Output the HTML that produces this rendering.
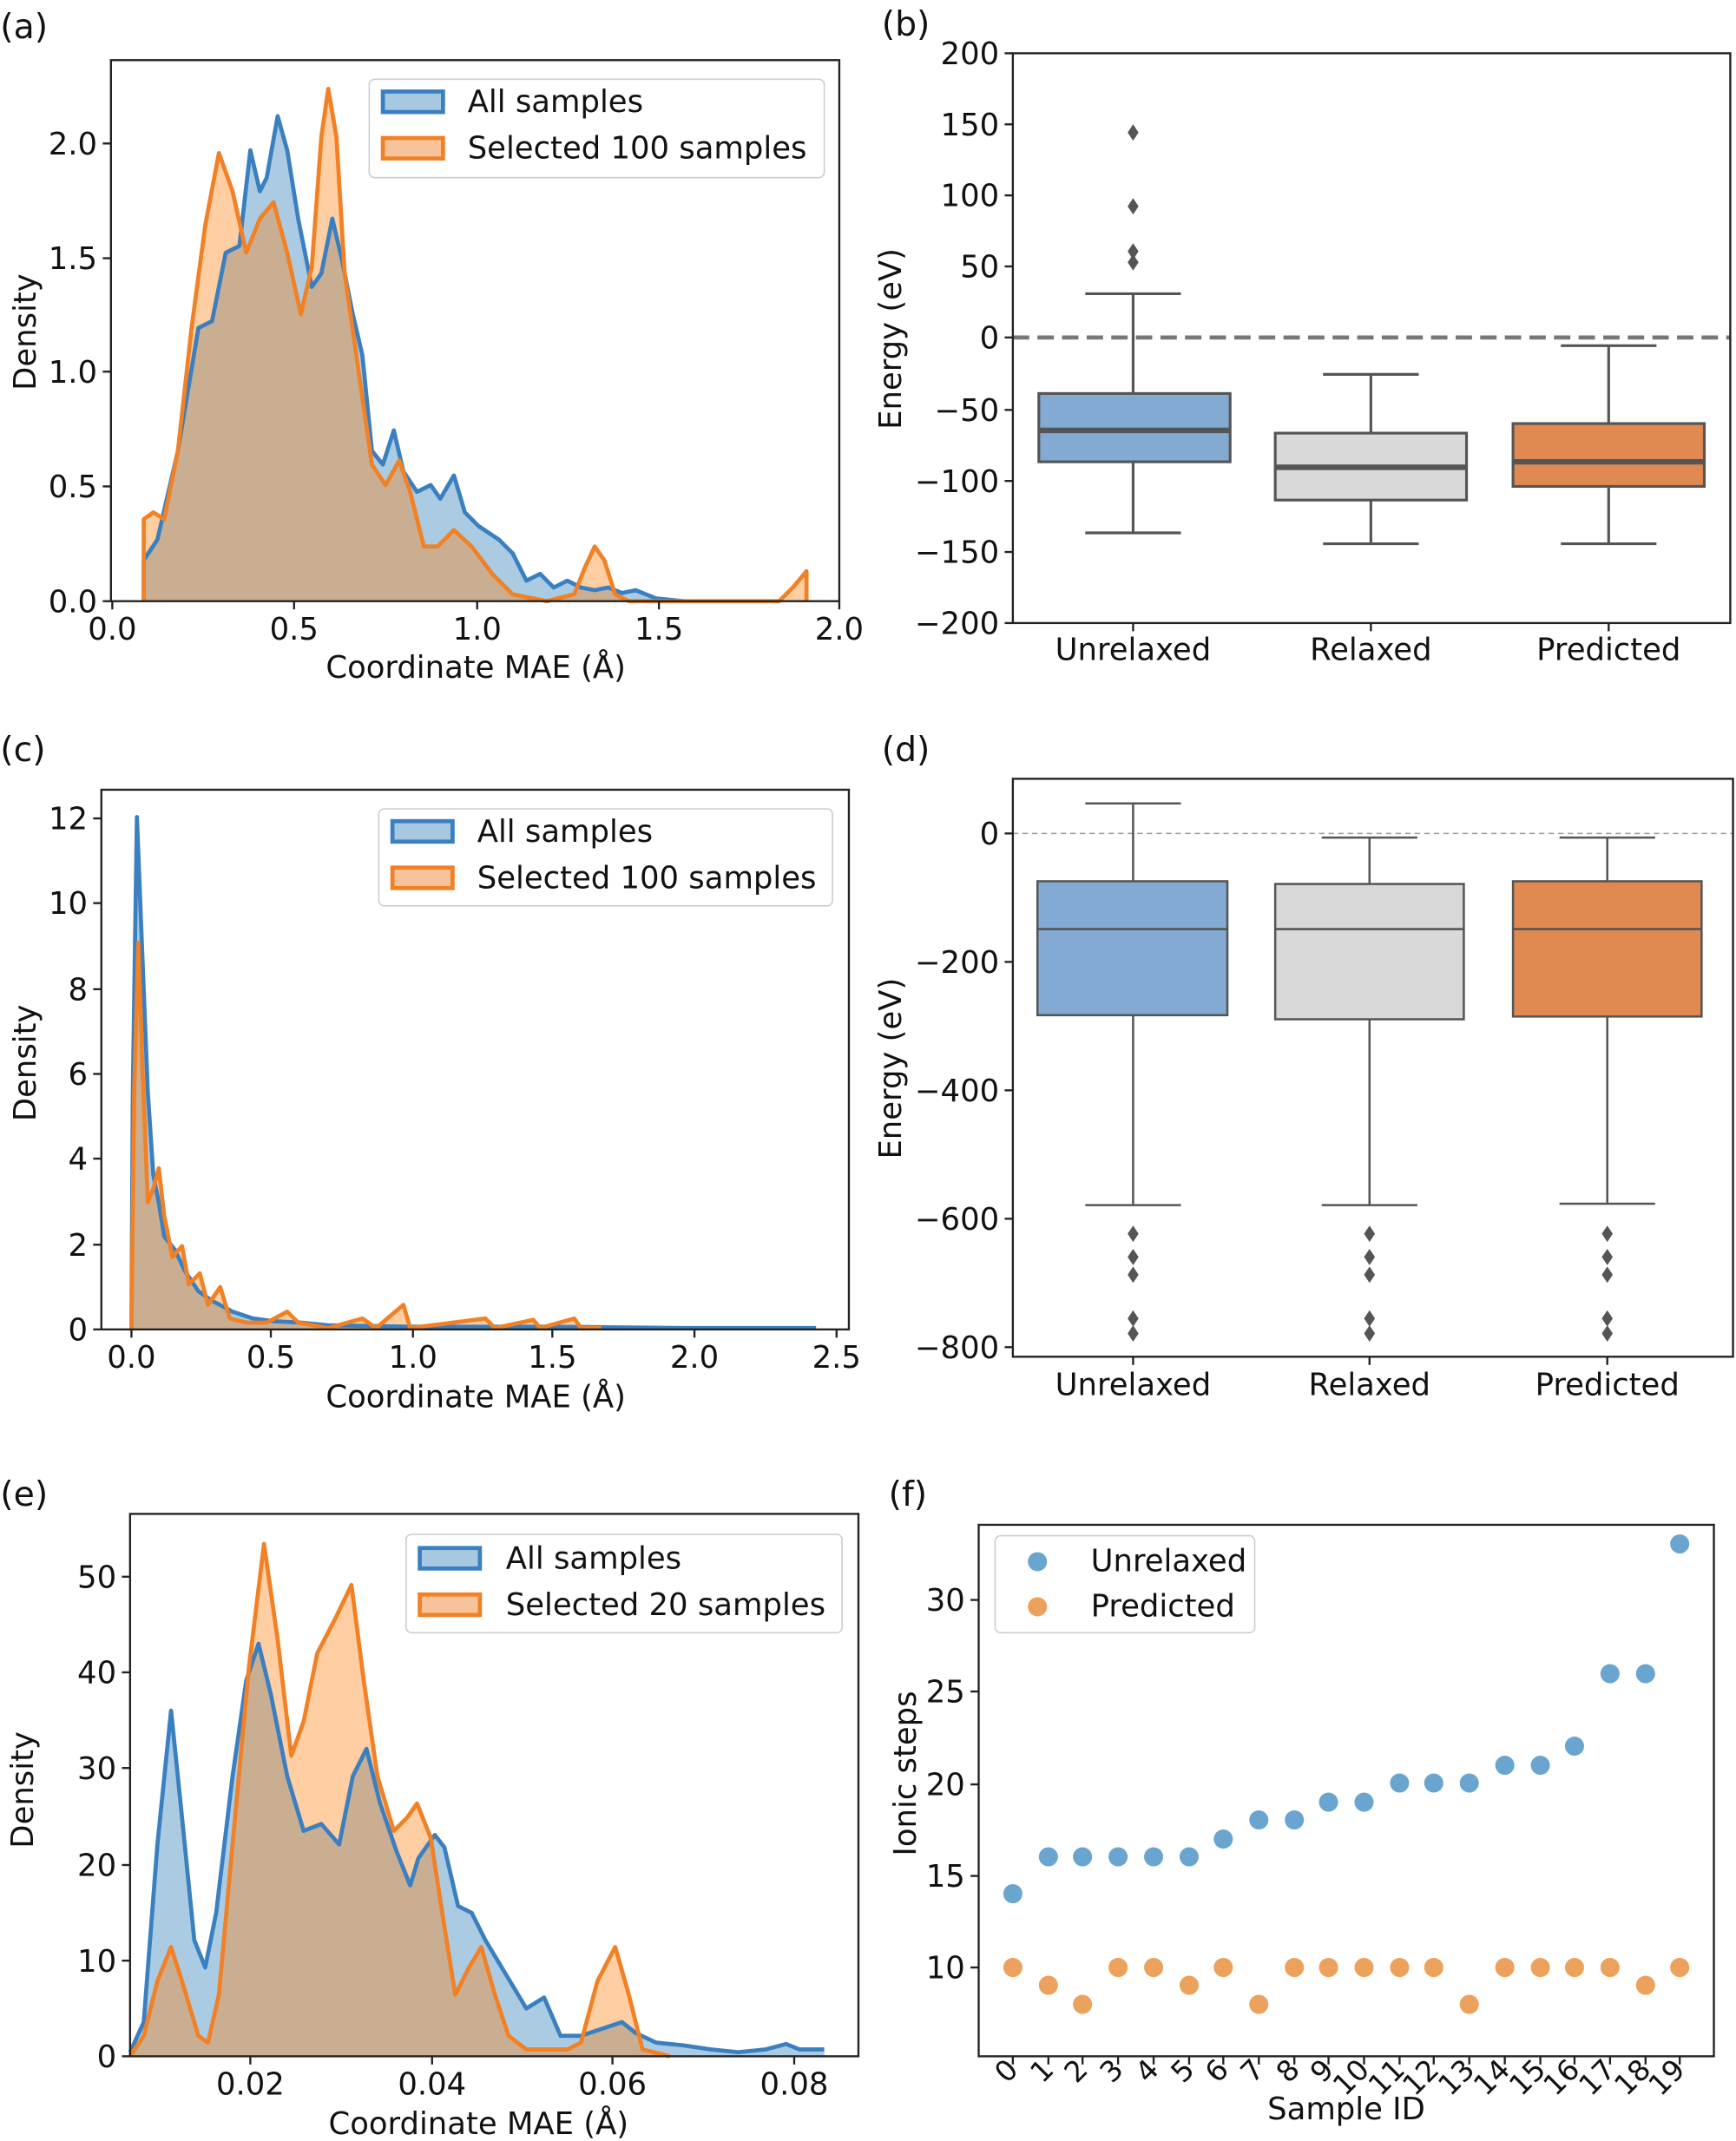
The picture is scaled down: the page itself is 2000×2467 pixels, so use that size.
<!DOCTYPE html>
<html><head><meta charset="utf-8"><style>
html,body{margin:0;padding:0;background:#fff}
svg{display:block}
text{font-family:"DejaVu Sans","Liberation Sans",sans-serif;fill:#111}
</style></head><body>
<svg width="2000" height="2467" viewBox="0 0 1270 1567" xmlns="http://www.w3.org/2000/svg">
<rect width="1270" height="1567" fill="#fff"/>
<g font-size="22.5">
<!-- panel labels -->
<text x="0" y="28" font-size="25">(a)</text>
<text x="645" y="26" font-size="25">(b)</text>
<text x="0" y="557" font-size="25">(c)</text>
<text x="645" y="557" font-size="25">(d)</text>
<text x="0" y="1102" font-size="25">(e)</text>
<text x="650" y="1102" font-size="25">(f)</text>

<!-- ===== (a) ===== -->
<g>
<polygon fill="#1f77b4" fill-opacity="0.38" points="105,440 105,410 115,395 130,330 145,240 155,235 165,185 175,180 183,110 190,140 195,130 203,85 210,110 218,160 228,210 235,200 243,160 250,190 258,230 265,260 272,330 280,340 288,315 295,345 305,360 315,355 322,365 332,348 340,375 350,385 365,395 375,405 385,425 395,420 405,430 415,425 425,430 435,432 445,430 455,434 465,432 480,438 500,440"/>
<polygon fill="#ff7f0e" fill-opacity="0.38" points="105,440 105,380 112,375 120,380 130,330 140,240 150,165 160,112 170,140 180,185 190,160 200,148 210,185 220,230 228,195 235,100 240,65 246,100 252,200 262,270 272,340 282,355 292,337 300,360 310,400 320,400 332,388 345,400 360,420 375,435 400,440 420,435 428,415 435,400 442,410 450,435 460,440 570,440 580,430 590,418 590,440"/>
<polyline fill="none" stroke="#3a7fc0" stroke-width="3" stroke-linejoin="round" points="105,440 105,410 115,395 130,330 145,240 155,235 165,185 175,180 183,110 190,140 195,130 203,85 210,110 218,160 228,210 235,200 243,160 250,190 258,230 265,260 272,330 280,340 288,315 295,345 305,360 315,355 322,365 332,348 340,375 350,385 365,395 375,405 385,425 395,420 405,430 415,425 425,430 435,432 445,430 455,434 465,432 480,438 500,440"/>
<polyline fill="none" stroke="#f28024" stroke-width="3" stroke-linejoin="round" points="105,440 105,380 112,375 120,380 130,330 140,240 150,165 160,112 170,140 180,185 190,160 200,148 210,185 220,230 228,195 235,100 240,65 246,100 252,200 262,270 272,340 282,355 292,337 300,360 310,400 320,400 332,388 345,400 360,420 375,435 400,440 420,435 428,415 435,400 442,410 450,435 460,440 570,440 580,430 590,418 590,440"/>
<rect x="81" y="44" width="533" height="396" fill="none" stroke="#222" stroke-width="1.5"/>
<g stroke="#222" stroke-width="1.5">
<line x1="82" y1="440" x2="82" y2="446"/><line x1="215" y1="440" x2="215" y2="446"/><line x1="349" y1="440" x2="349" y2="446"/><line x1="482" y1="440" x2="482" y2="446"/><line x1="614" y1="440" x2="614" y2="446"/>
<line x1="75" y1="440" x2="81" y2="440"/><line x1="75" y1="356" x2="81" y2="356"/><line x1="75" y1="272" x2="81" y2="272"/><line x1="75" y1="189" x2="81" y2="189"/><line x1="75" y1="105" x2="81" y2="105"/>
</g>
<g text-anchor="middle"><text x="82" y="468">0.0</text><text x="215" y="468">0.5</text><text x="349" y="468">1.0</text><text x="482" y="468">1.5</text><text x="614" y="468">2.0</text></g>
<g text-anchor="end"><text x="71" y="448">0.0</text><text x="71" y="364">0.5</text><text x="71" y="280">1.0</text><text x="71" y="197">1.5</text><text x="71" y="113">2.0</text></g>
<text x="348" y="496" text-anchor="middle">Coordinate MAE (Å)</text>
<text transform="translate(26,243) rotate(-90)" text-anchor="middle">Density</text>
<rect x="270" y="58" width="333" height="72" rx="4" fill="#fff" stroke="#ccc"/>
<rect x="280" y="67" width="44" height="15" fill="#a6c8e0" stroke="#3a7fc0" stroke-width="3"/>
<rect x="280" y="101" width="44" height="15" fill="#f7c39a" stroke="#f28024" stroke-width="3"/>
<text x="342" y="82">All samples</text><text x="342" y="116">Selected 100 samples</text>
</g>

<!-- ===== (b) ===== -->
<g>
<line x1="741" y1="247" x2="1266" y2="247" stroke="#777" stroke-width="3" stroke-dasharray="12,6"/>
<g stroke="#555" stroke-width="2">
<line x1="829" y1="215" x2="829" y2="288"/><line x1="829" y1="338" x2="829" y2="390"/><line x1="794" y1="215" x2="864" y2="215"/><line x1="794" y1="390" x2="864" y2="390"/>
<rect x="760" y="288" width="140" height="50" fill="#82aad2"/>
<line x1="1003" y1="274" x2="1003" y2="317"/><line x1="1003" y1="366" x2="1003" y2="398"/><line x1="968" y1="274" x2="1038" y2="274"/><line x1="968" y1="398" x2="1038" y2="398"/>
<rect x="933" y="317" width="140" height="49" fill="#d9d9d9"/>
<line x1="1177" y1="253" x2="1177" y2="310"/><line x1="1177" y1="356" x2="1177" y2="398"/><line x1="1142" y1="253" x2="1212" y2="253"/><line x1="1142" y1="398" x2="1212" y2="398"/>
<rect x="1107" y="310" width="140" height="46" fill="#e08a52"/>
</g>
<g stroke="#555" stroke-width="4"><line x1="760" y1="315" x2="900" y2="315"/><line x1="933" y1="342" x2="1073" y2="342"/><line x1="1107" y1="338" x2="1247" y2="338"/></g>
<g fill="#555"><path d="M829,91 l4,6 -4,6 -4,-6z"/><path d="M829,145 l4,6 -4,6 -4,-6z"/><path d="M829,178 l4,6 -4,6 -4,-6z"/><path d="M829,186 l4,6 -4,6 -4,-6z"/></g>
<rect x="741" y="39" width="525" height="417" fill="none" stroke="#222" stroke-width="1.5"/>
<g stroke="#222" stroke-width="1.5">
<line x1="735" y1="39" x2="741" y2="39"/><line x1="735" y1="91" x2="741" y2="91"/><line x1="735" y1="143" x2="741" y2="143"/><line x1="735" y1="195" x2="741" y2="195"/><line x1="735" y1="247" x2="741" y2="247"/><line x1="735" y1="300" x2="741" y2="300"/><line x1="735" y1="352" x2="741" y2="352"/><line x1="735" y1="404" x2="741" y2="404"/><line x1="735" y1="456" x2="741" y2="456"/>
<line x1="829" y1="456" x2="829" y2="462"/><line x1="1003" y1="456" x2="1003" y2="462"/><line x1="1177" y1="456" x2="1177" y2="462"/>
</g>
<g text-anchor="end"><text x="731" y="47">200</text><text x="731" y="99">150</text><text x="731" y="151">100</text><text x="731" y="203">50</text><text x="731" y="255">0</text><text x="731" y="308">−50</text><text x="731" y="360">−100</text><text x="731" y="412">−150</text><text x="731" y="464">−200</text></g>
<g text-anchor="middle"><text x="829" y="483">Unrelaxed</text><text x="1003" y="483">Relaxed</text><text x="1177" y="483">Predicted</text></g>
<text transform="translate(659,248) rotate(-90)" text-anchor="middle">Energy (eV)</text>
</g>

<!-- ===== (c) ===== -->
<g>
<polygon fill="#1f77b4" fill-opacity="0.38" points="96,973 97,800 100,598 104,700 108,800 112,860 116,880 120,905 128,915 135,930 145,945 155,952 170,960 185,965 200,967 220,968 240,970 300,971 400,971 500,972 597,972 597,973"/>
<polygon fill="#ff7f0e" fill-opacity="0.38" points="96,973 98,800 101,690 104,780 108,880 112,870 116,855 120,890 126,920 133,912 138,940 146,932 152,955 161,942 168,965 180,968 195,968 210,960 218,968 240,972 265,965 275,972 295,955 300,972 355,965 362,972 390,966 395,972 420,965 425,972 440,972 440,973"/>
<polyline fill="none" stroke="#3a7fc0" stroke-width="3" stroke-linejoin="round" points="96,973 97,800 100,598 104,700 108,800 112,860 116,880 120,905 128,915 135,930 145,945 155,952 170,960 185,965 200,967 220,968 240,970 300,971 400,971 500,972 597,972"/>
<polyline fill="none" stroke="#f28024" stroke-width="3" stroke-linejoin="round" points="96,973 98,800 101,690 104,780 108,880 112,870 116,855 120,890 126,920 133,912 138,940 146,932 152,955 161,942 168,965 180,968 195,968 210,960 218,968 240,972 265,965 275,972 295,955 300,972 355,965 362,972 390,966 395,972 420,965 425,972 440,972"/>
<rect x="74" y="578" width="547" height="395" fill="none" stroke="#222" stroke-width="1.5"/>
<g stroke="#222" stroke-width="1.5">
<line x1="96" y1="973" x2="96" y2="979"/><line x1="198" y1="973" x2="198" y2="979"/><line x1="302" y1="973" x2="302" y2="979"/><line x1="404" y1="973" x2="404" y2="979"/><line x1="508" y1="973" x2="508" y2="979"/><line x1="612" y1="973" x2="612" y2="979"/>
<line x1="68" y1="973" x2="74" y2="973"/><line x1="68" y1="911" x2="74" y2="911"/><line x1="68" y1="848" x2="74" y2="848"/><line x1="68" y1="786" x2="74" y2="786"/><line x1="68" y1="724" x2="74" y2="724"/><line x1="68" y1="661" x2="74" y2="661"/><line x1="68" y1="599" x2="74" y2="599"/>
</g>
<g text-anchor="middle"><text x="96" y="1001">0.0</text><text x="198" y="1001">0.5</text><text x="302" y="1001">1.0</text><text x="404" y="1001">1.5</text><text x="508" y="1001">2.0</text><text x="612" y="1001">2.5</text></g>
<g text-anchor="end"><text x="64" y="981">0</text><text x="64" y="919">2</text><text x="64" y="856">4</text><text x="64" y="794">6</text><text x="64" y="732">8</text><text x="64" y="669">10</text><text x="64" y="607">12</text></g>
<text x="348" y="1030" text-anchor="middle">Coordinate MAE (Å)</text>
<text transform="translate(26,778) rotate(-90)" text-anchor="middle">Density</text>
<rect x="277" y="592" width="332" height="71" rx="4" fill="#fff" stroke="#ccc"/>
<rect x="287" y="601" width="44" height="15" fill="#a6c8e0" stroke="#3a7fc0" stroke-width="3"/>
<rect x="287" y="635" width="44" height="15" fill="#f7c39a" stroke="#f28024" stroke-width="3"/>
<text x="349" y="616">All samples</text><text x="349" y="650">Selected 100 samples</text>
</g>

<!-- ===== (d) ===== -->
<g>
<line x1="741" y1="610" x2="1268" y2="610" stroke="#999" stroke-width="1" stroke-dasharray="4,3"/>
<g stroke="#555" stroke-width="1.6">
<line x1="829" y1="588" x2="829" y2="645"/><line x1="829" y1="743" x2="829" y2="882"/><line x1="794" y1="588" x2="864" y2="588"/><line x1="794" y1="882" x2="864" y2="882"/>
<rect x="759" y="645" width="139" height="98" fill="#82aad2"/>
<line x1="1002" y1="613" x2="1002" y2="647"/><line x1="1002" y1="746" x2="1002" y2="882"/><line x1="967" y1="613" x2="1037" y2="613"/><line x1="967" y1="882" x2="1037" y2="882"/>
<rect x="933" y="647" width="138" height="99" fill="#d9d9d9"/>
<line x1="1176" y1="613" x2="1176" y2="645"/><line x1="1176" y1="744" x2="1176" y2="881"/><line x1="1141" y1="613" x2="1211" y2="613"/><line x1="1141" y1="881" x2="1211" y2="881"/>
<rect x="1107" y="645" width="138" height="99" fill="#e08a52"/>
<line x1="759" y1="680" x2="898" y2="680"/><line x1="933" y1="680" x2="1071" y2="680"/><line x1="1107" y1="680" x2="1245" y2="680"/>
</g>
<g fill="#555">
<path d="M829,897 l4,6 -4,6 -4,-6z"/><path d="M829,914 l4,6 -4,6 -4,-6z"/><path d="M829,927 l4,6 -4,6 -4,-6z"/><path d="M829,959 l4,6 -4,6 -4,-6z"/><path d="M829,970 l4,6 -4,6 -4,-6z"/>
<path d="M1002,897 l4,6 -4,6 -4,-6z"/><path d="M1002,914 l4,6 -4,6 -4,-6z"/><path d="M1002,927 l4,6 -4,6 -4,-6z"/><path d="M1002,959 l4,6 -4,6 -4,-6z"/><path d="M1002,970 l4,6 -4,6 -4,-6z"/>
<path d="M1176,897 l4,6 -4,6 -4,-6z"/><path d="M1176,914 l4,6 -4,6 -4,-6z"/><path d="M1176,927 l4,6 -4,6 -4,-6z"/><path d="M1176,959 l4,6 -4,6 -4,-6z"/><path d="M1176,970 l4,6 -4,6 -4,-6z"/>
</g>
<rect x="741" y="570" width="527" height="423" fill="none" stroke="#222" stroke-width="1.5"/>
<g stroke="#222" stroke-width="1.5">
<line x1="735" y1="610" x2="741" y2="610"/><line x1="735" y1="704" x2="741" y2="704"/><line x1="735" y1="798" x2="741" y2="798"/><line x1="735" y1="892" x2="741" y2="892"/><line x1="735" y1="986" x2="741" y2="986"/>
<line x1="829" y1="993" x2="829" y2="999"/><line x1="1002" y1="993" x2="1002" y2="999"/><line x1="1176" y1="993" x2="1176" y2="999"/>
</g>
<g text-anchor="end"><text x="731" y="618">0</text><text x="731" y="712">−200</text><text x="731" y="806">−400</text><text x="731" y="900">−600</text><text x="731" y="994">−800</text></g>
<g text-anchor="middle"><text x="829" y="1021">Unrelaxed</text><text x="1002" y="1021">Relaxed</text><text x="1176" y="1021">Predicted</text></g>
<text transform="translate(659,782) rotate(-90)" text-anchor="middle">Energy (eV)</text>
</g>

<!-- ===== (e) ===== -->
<g>
<polygon fill="#1f77b4" fill-opacity="0.38" points="95,1502 105,1480 115,1350 125,1252 133,1330 142,1420 150,1440 158,1400 170,1300 180,1230 189,1203 198,1240 210,1300 222,1340 235,1335 248,1350 258,1300 268,1280 278,1320 290,1355 300,1380 306,1360 318,1343 325,1352 335,1395 345,1400 355,1420 370,1445 385,1470 398,1462 410,1490 425,1490 440,1485 455,1480 465,1488 480,1495 500,1497 520,1500 540,1502 560,1500 575,1496 585,1500 603,1500 603,1505 95,1505"/>
<polygon fill="#ff7f0e" fill-opacity="0.38" points="95,1505 105,1490 115,1450 125,1425 133,1450 145,1490 152,1495 160,1460 170,1350 182,1220 193,1130 203,1200 213,1285 222,1260 232,1210 245,1185 257,1160 266,1230 276,1300 288,1340 298,1330 305,1320 315,1345 325,1410 333,1460 343,1440 352,1425 362,1460 372,1490 385,1500 400,1500 415,1500 425,1495 437,1450 450,1425 460,1460 470,1500 490,1505"/>
<polyline fill="none" stroke="#3a7fc0" stroke-width="3" stroke-linejoin="round" points="95,1502 105,1480 115,1350 125,1252 133,1330 142,1420 150,1440 158,1400 170,1300 180,1230 189,1203 198,1240 210,1300 222,1340 235,1335 248,1350 258,1300 268,1280 278,1320 290,1355 300,1380 306,1360 318,1343 325,1352 335,1395 345,1400 355,1420 370,1445 385,1470 398,1462 410,1490 425,1490 440,1485 455,1480 465,1488 480,1495 500,1497 520,1500 540,1502 560,1500 575,1496 585,1500 603,1500"/>
<polyline fill="none" stroke="#f28024" stroke-width="3" stroke-linejoin="round" points="95,1505 105,1490 115,1450 125,1425 133,1450 145,1490 152,1495 160,1460 170,1350 182,1220 193,1130 203,1200 213,1285 222,1260 232,1210 245,1185 257,1160 266,1230 276,1300 288,1340 298,1330 305,1320 315,1345 325,1410 333,1460 343,1440 352,1425 362,1460 372,1490 385,1500 400,1500 415,1500 425,1495 437,1450 450,1425 460,1460 470,1500 490,1505"/>
<rect x="95" y="1108" width="533" height="397" fill="none" stroke="#222" stroke-width="1.5"/>
<g stroke="#222" stroke-width="1.5">
<line x1="183" y1="1505" x2="183" y2="1511"/><line x1="316" y1="1505" x2="316" y2="1511"/><line x1="448" y1="1505" x2="448" y2="1511"/><line x1="581" y1="1505" x2="581" y2="1511"/>
<line x1="89" y1="1505" x2="95" y2="1505"/><line x1="89" y1="1435" x2="95" y2="1435"/><line x1="89" y1="1365" x2="95" y2="1365"/><line x1="89" y1="1294" x2="95" y2="1294"/><line x1="89" y1="1224" x2="95" y2="1224"/><line x1="89" y1="1154" x2="95" y2="1154"/>
</g>
<g text-anchor="middle"><text x="183" y="1533">0.02</text><text x="316" y="1533">0.04</text><text x="448" y="1533">0.06</text><text x="581" y="1533">0.08</text></g>
<g text-anchor="end"><text x="85" y="1513">0</text><text x="85" y="1443">10</text><text x="85" y="1373">20</text><text x="85" y="1302">30</text><text x="85" y="1232">40</text><text x="85" y="1162">50</text></g>
<text x="350" y="1562" text-anchor="middle">Coordinate MAE (Å)</text>
<text transform="translate(24,1310) rotate(-90)" text-anchor="middle">Density</text>
<rect x="297" y="1123" width="319" height="72" rx="4" fill="#fff" stroke="#ccc"/>
<rect x="307" y="1133" width="44" height="15" fill="#a6c8e0" stroke="#3a7fc0" stroke-width="3"/>
<rect x="307" y="1167" width="44" height="15" fill="#f7c39a" stroke="#f28024" stroke-width="3"/>
<text x="370" y="1148">All samples</text><text x="370" y="1182">Selected 20 samples</text>
</g>

<!-- ===== (f) ===== -->
<g>
<g fill="#6aa5cf">
<circle cx="741" cy="1386" r="7"/><circle cx="767" cy="1359" r="7"/><circle cx="792" cy="1359" r="7"/><circle cx="818" cy="1359" r="7"/><circle cx="844" cy="1359" r="7"/><circle cx="870" cy="1359" r="7"/><circle cx="895" cy="1346" r="7"/><circle cx="921" cy="1332" r="7"/><circle cx="947" cy="1332" r="7"/><circle cx="972" cy="1319" r="7"/><circle cx="998" cy="1319" r="7"/><circle cx="1024" cy="1305" r="7"/><circle cx="1049" cy="1305" r="7"/><circle cx="1075" cy="1305" r="7"/><circle cx="1101" cy="1292" r="7"/><circle cx="1127" cy="1292" r="7"/><circle cx="1152" cy="1278" r="7"/><circle cx="1178" cy="1225" r="7"/><circle cx="1204" cy="1225" r="7"/><circle cx="1229" cy="1130" r="7"/>
</g>
<g fill="#eca25c">
<circle cx="741" cy="1440" r="7"/><circle cx="767" cy="1453" r="7"/><circle cx="792" cy="1467" r="7"/><circle cx="818" cy="1440" r="7"/><circle cx="844" cy="1440" r="7"/><circle cx="870" cy="1453" r="7"/><circle cx="895" cy="1440" r="7"/><circle cx="921" cy="1467" r="7"/><circle cx="947" cy="1440" r="7"/><circle cx="972" cy="1440" r="7"/><circle cx="998" cy="1440" r="7"/><circle cx="1024" cy="1440" r="7"/><circle cx="1049" cy="1440" r="7"/><circle cx="1075" cy="1467" r="7"/><circle cx="1101" cy="1440" r="7"/><circle cx="1127" cy="1440" r="7"/><circle cx="1152" cy="1440" r="7"/><circle cx="1178" cy="1440" r="7"/><circle cx="1204" cy="1453" r="7"/><circle cx="1229" cy="1440" r="7"/>
</g>
<rect x="716" y="1116" width="538" height="389" fill="none" stroke="#222" stroke-width="1.5"/>
<g stroke="#222" stroke-width="1.5">
<line x1="710" y1="1440" x2="716" y2="1440"/><line x1="710" y1="1373" x2="716" y2="1373"/><line x1="710" y1="1306" x2="716" y2="1306"/><line x1="710" y1="1238" x2="716" y2="1238"/><line x1="710" y1="1171" x2="716" y2="1171"/>
</g>
<text x="706" y="1448" text-anchor="end">10</text>
<text x="706" y="1381" text-anchor="end">15</text>
<text x="706" y="1314" text-anchor="end">20</text>
<text x="706" y="1246" text-anchor="end">25</text>
<text x="706" y="1179" text-anchor="end">30</text>
<g stroke="#222" stroke-width="1.5">
<line x1="741" y1="1505" x2="741" y2="1511"/><line x1="767" y1="1505" x2="767" y2="1511"/><line x1="792" y1="1505" x2="792" y2="1511"/><line x1="818" y1="1505" x2="818" y2="1511"/><line x1="844" y1="1505" x2="844" y2="1511"/><line x1="870" y1="1505" x2="870" y2="1511"/><line x1="895" y1="1505" x2="895" y2="1511"/><line x1="921" y1="1505" x2="921" y2="1511"/><line x1="947" y1="1505" x2="947" y2="1511"/><line x1="972" y1="1505" x2="972" y2="1511"/><line x1="998" y1="1505" x2="998" y2="1511"/><line x1="1024" y1="1505" x2="1024" y2="1511"/><line x1="1049" y1="1505" x2="1049" y2="1511"/><line x1="1075" y1="1505" x2="1075" y2="1511"/><line x1="1101" y1="1505" x2="1101" y2="1511"/><line x1="1127" y1="1505" x2="1127" y2="1511"/><line x1="1152" y1="1505" x2="1152" y2="1511"/><line x1="1178" y1="1505" x2="1178" y2="1511"/><line x1="1204" y1="1505" x2="1204" y2="1511"/><line x1="1229" y1="1505" x2="1229" y2="1511"/>
</g>
<g text-anchor="end" font-size="21">
<text transform="translate(746,1516) rotate(-45)">0</text><text transform="translate(772,1516) rotate(-45)">1</text><text transform="translate(797,1516) rotate(-45)">2</text><text transform="translate(823,1516) rotate(-45)">3</text><text transform="translate(849,1516) rotate(-45)">4</text><text transform="translate(875,1516) rotate(-45)">5</text><text transform="translate(900,1516) rotate(-45)">6</text><text transform="translate(926,1516) rotate(-45)">7</text><text transform="translate(952,1516) rotate(-45)">8</text><text transform="translate(977,1516) rotate(-45)">9</text><text transform="translate(1003,1516) rotate(-45)">10</text><text transform="translate(1029,1516) rotate(-45)">11</text><text transform="translate(1054,1516) rotate(-45)">12</text><text transform="translate(1080,1516) rotate(-45)">13</text><text transform="translate(1106,1516) rotate(-45)">14</text><text transform="translate(1132,1516) rotate(-45)">15</text><text transform="translate(1157,1516) rotate(-45)">16</text><text transform="translate(1183,1516) rotate(-45)">17</text><text transform="translate(1209,1516) rotate(-45)">18</text><text transform="translate(1234,1516) rotate(-45)">19</text>
</g>
<text x="985" y="1551" text-anchor="middle">Sample ID</text>
<text transform="translate(670,1298) rotate(-90)" text-anchor="middle">Ionic steps</text>
<rect x="728" y="1124" width="190" height="71" rx="4" fill="#fff" stroke="#ccc"/>
<circle cx="759" cy="1143" r="7" fill="#6aa5cf"/><circle cx="759" cy="1176" r="7" fill="#eca25c"/>
<text x="798" y="1150">Unrelaxed</text><text x="798" y="1183">Predicted</text>
</g>
</g>
</svg>
</body></html>
